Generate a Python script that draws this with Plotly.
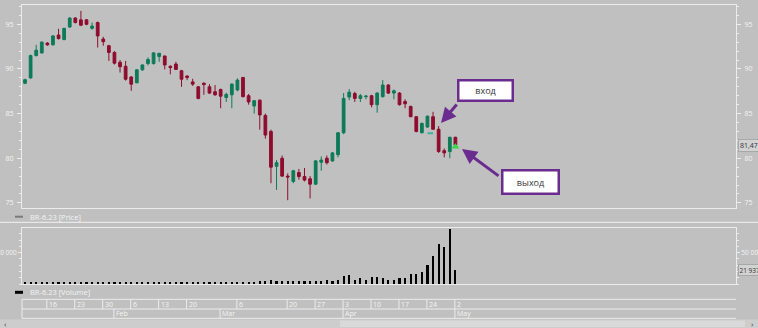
import plotly.graph_objects as go

W, H = 758, 328

# ---------------- data ----------------
dates = (
    ["2023-01-%02d" % d for d in [10, 11, 12, 13, 16, 17, 18, 19, 20, 23, 24, 25, 26, 27, 30, 31]]
    + ["2023-02-%02d" % d for d in [1, 2, 3, 6, 7, 8, 9, 10, 13, 14, 15, 16, 17, 20, 21, 22, 24, 27, 28]]
    + ["2023-03-%02d" % d for d in [1, 2, 3, 6, 7, 9, 10, 13, 14, 15, 16, 17, 20, 21, 22, 23, 24, 27, 28, 29, 30, 31]]
    + ["2023-04-%02d" % d for d in [3, 4, 5, 6, 7, 10, 11, 12, 13, 14, 17, 18, 19, 20, 21, 24, 25, 26, 27, 28]]
    + ["2023-05-02"]
)

open_ = [88.4, 89.0, 91.5, 91.8, 92.9, 92.7, 93.8, 93.3, 94.7, 95.7,
         95.5, 95.5, 94.55, 95.2, 93.35, 92.6, 91.85, 90.75, 90.3, 89.1,
         88.45, 89.9, 90.6, 90.6, 91.4, 91.45, 90.3, 90.55, 89.8, 89.2,
         88.55, 88.0, 88.4, 88.0, 87.45, 87.7, 86.8, 87.1, 87.65, 89.05,
         87.0, 85.85, 86.5, 84.8, 83.0, 79.1, 80.0, 78.0, 77.4, 78.4,
         77.95, 77.7, 77.1, 79.55, 80.0, 79.7, 80.4, 82.85, 86.85, 87.25,
         86.7, 86.9, 87.0, 86.0, 86.9, 88.2, 87.3, 87.3, 86.35, 85.8,
         84.65, 82.85, 83.5, 84.65, 83.25, 80.85, 80.75, 82.35]
high = [88.9, 91.6, 92.7, 93.1, 93.0, 93.8, 94.5, 94.6, 95.8, 95.8,
        96.5, 95.6, 95.2, 95.3, 93.6, 92.7, 92.0, 91.0, 90.9, 89.2,
        90.0, 90.5, 91.3, 91.9, 91.8, 91.5, 90.4, 90.8, 89.9, 89.3,
        88.9, 88.1, 88.5, 88.3, 88.2, 87.8, 87.35, 88.4, 88.95, 89.1,
        87.2, 86.5, 86.6, 85.0, 83.2, 79.8, 80.3, 78.3, 78.7, 78.8,
        78.9, 78.0, 79.8, 80.2, 80.3, 80.7, 82.9, 87.3, 87.75, 87.45,
        87.2, 87.1, 87.1, 87.4, 88.75, 88.3, 87.7, 87.4, 86.6, 85.9,
        84.7, 84.0, 84.8, 85.2, 83.6, 81.1, 82.4, 82.4]
low = [88.3, 88.9, 91.4, 91.7, 92.6, 92.6, 93.3, 93.2, 94.6, 95.1,
       94.8, 94.9, 94.4, 92.4, 92.6, 90.9, 90.5, 89.6, 88.7, 87.55,
       88.4, 89.8, 90.4, 90.5, 90.8, 89.95, 89.4, 89.9, 88.0, 88.75,
       88.1, 86.6, 87.1, 87.2, 87.0, 85.6, 86.3, 85.6, 87.5, 86.8,
       86.0, 85.0, 83.2, 82.2, 77.2, 76.45, 77.9, 75.3, 77.2, 77.6,
       77.4, 75.5, 77.0, 78.6, 79.3, 79.6, 80.1, 82.7, 86.5, 86.3,
       86.3, 86.6, 85.7, 85.1, 86.8, 87.2, 86.6, 85.9, 85.6, 84.6,
       82.9, 82.8, 83.4, 83.2, 80.6, 80.1, 80.0, 81.4]
close = [88.8, 91.5, 92.1, 93.0, 92.7, 93.7, 93.4, 94.55, 95.7, 95.2,
         94.9, 95.0, 94.8, 93.7, 93.05, 91.85, 90.65, 90.25, 88.85, 88.3,
         89.9, 90.45, 91.05, 91.8, 91.75, 90.45, 90.15, 89.95, 88.85, 89.05,
         88.3, 86.7, 88.25, 87.3, 87.1, 86.95, 87.15, 88.3, 88.75, 86.9,
         86.3, 86.45, 84.85, 82.6, 79.0, 79.5, 78.0, 77.9, 78.6, 77.95,
         77.55, 77.1, 79.7, 79.8, 79.5, 80.6, 82.85, 86.7, 87.4, 86.7,
         87.0, 86.95, 86.0, 87.3, 88.2, 87.3, 87.55, 86.0, 86.1, 84.65,
         83.0, 83.9, 84.7, 83.25, 80.75, 80.6, 82.35, 81.47]
volume = [2600, 3100, 2800, 2500, 2400, 2600, 2500, 2700, 2900, 2600,
          2800, 2500, 2300, 2700, 2500, 2600, 2800, 2600, 2900, 2700,
          2600, 2500, 2400, 2600, 2500, 2700, 2400, 2500, 2600, 2300,
          2500, 2800, 2200, 2500, 2600, 2700, 2600, 2900, 3000, 3200,
          3400, 3500, 4200, 4800, 5200, 4500, 4600, 5000, 4400, 4300,
          4700, 4600, 4200, 4900, 5200, 4800, 6400, 11700, 13300, 6400,
          9100, 6400, 10000, 10000, 9100, 6400, 6400, 9100, 9100, 16000,
          16000, 18700, 29200, 44200, 63400, 58600, 87400, 21937]

day_ticks = [("2023-01-16", "16"), ("2023-01-23", "23"), ("2023-01-30", "30"),
             ("2023-02-06", "6"), ("2023-02-13", "13"), ("2023-02-20", "20"),
             ("2023-03-06", "6"), ("2023-03-20", "20"), ("2023-03-27", "27"),
             ("2023-04-03", "3"), ("2023-04-10", "10"), ("2023-04-17", "17"),
             ("2023-04-24", "24"), ("2023-05-02", "2")]
month_ticks = [("2023-02-01", "Feb"), ("2023-03-01", "Mar"),
               ("2023-04-03", "Apr"), ("2023-05-02", "May")]

entry_marker = (["2023-04-24", "2023-04-25"], [82.8, 82.8])
exit_marker = (["2023-05-02"], [81.3])

series_price = "BR-6.23 [Price]"
series_volume = "BR-6.23 [Volume]"
last_price_label = "81,47"
last_volume_label = "21 937"

# ---------------- helpers (pixel -> paper) ----------------
def px(x):
    return x / W


def py(y):
    return 1 - y / H


BG = "#c0c0c0"
LINE = "#ececec"
TXT = "#f4f4f4"
UP = "#0d7a58"
DOWN = "#8e0c2e"
PURPLE = "#6a2d8f"
FONT = "Open Sans"

fig = go.Figure()

fig.add_trace(go.Candlestick(
    x=dates, open=open_, high=high, low=low, close=close,
    increasing=dict(line=dict(color=UP, width=1), fillcolor=UP),
    decreasing=dict(line=dict(color=DOWN, width=1), fillcolor=DOWN),
    whiskerwidth=0, showlegend=False, xaxis="x", yaxis="y",
))
fig.add_trace(go.Scatter(
    x=entry_marker[0], y=entry_marker[1], mode="lines",
    line=dict(color="#3fb3a0", width=2), showlegend=False, xaxis="x", yaxis="y",
))
fig.add_trace(go.Scatter(
    x=exit_marker[0], y=exit_marker[1], mode="markers",
    marker=dict(symbol="triangle-up", size=7, color="#35d84a"),
    showlegend=False, xaxis="x", yaxis="y",
))
fig.add_trace(go.Scatter(
    x=[dates[-1]], y=[close[-1]], mode="markers", marker=dict(opacity=0),
    hoverinfo="skip", showlegend=False, xaxis="x", yaxis="y3",
))
fig.add_trace(go.Bar(
    x=dates, y=volume, marker=dict(color="black", line=dict(width=0)),
    width=0.38, showlegend=False, xaxis="x2", yaxis="y2",
))
fig.add_trace(go.Scatter(
    x=[dates[-1]], y=[volume[-1]], mode="markers", marker=dict(opacity=0),
    hoverinfo="skip", showlegend=False, xaxis="x2", yaxis="y4",
))

xr = [-0.54, 127.2]
xdom = [px(22), px(736)]
ydom_price = [py(207.7), py(4.5)]
ydom_vol = [py(284), py(228.3)]
prange = [74.46, 97.22]
vrange = [0, 89000]

tickfont = dict(family=FONT, size=7, color=TXT)
vtickfont = dict(family=FONT, size=6.5, color=TXT)
minor_p = dict(ticks="outside", ticklen=2, tickcolor=LINE, tick0=0, dtick=1)
minor_v = dict(ticks="outside", ticklen=2, tickcolor=LINE,
               tickmode="linear", tick0=0, dtick=10000)

fig.update_layout(
    width=W, height=H,
    margin=dict(l=0, r=0, t=0, b=0, autoexpand=False),
    paper_bgcolor=BG, plot_bgcolor=BG,
    separators=", ",
    bargap=0,
    xaxis=dict(domain=xdom, type="category", range=xr, showticklabels=False,
               showgrid=False, zeroline=False, showline=True, mirror=True,
               linecolor=LINE, linewidth=1, ticks="", anchor="y",
               automargin=False, rangeslider=dict(visible=False)),
    xaxis2=dict(domain=xdom, type="category", range=xr, matches="x",
                showticklabels=False, showgrid=False, zeroline=False,
                showline=True, mirror=True, linecolor=LINE, linewidth=1,
                ticks="", anchor="y2", automargin=False),
    yaxis=dict(domain=ydom_price, range=prange, side="left", anchor="x",
               tick0=0, dtick=5, ticks="outside", ticklen=4, tickcolor=LINE,
               minor=minor_p, tickfont=tickfont, showgrid=False,
               zeroline=False, showline=True, mirror=True, linecolor=LINE,
               linewidth=1, ticklabelstandoff=2, automargin=False),
    yaxis3=dict(range=prange, overlaying="y", side="right", anchor="x",
                tick0=0, dtick=5, ticks="outside", ticklen=4, tickcolor=LINE,
                minor=minor_p, tickfont=tickfont, showgrid=False,
                zeroline=False, showline=False, ticklabelstandoff=2,
                automargin=False),
    yaxis2=dict(domain=ydom_vol, range=vrange, side="left", anchor="x2",
                tickvals=[50000], ticktext=["50 000"], ticks="outside",
                ticklen=3, tickcolor=LINE, minor=minor_v,
                tickfont=vtickfont, showgrid=False, zeroline=False,
                showline=True, mirror=True, linecolor=LINE, linewidth=1,
                ticklabelstandoff=0, automargin=False),
    yaxis4=dict(range=vrange, overlaying="y2", side="right", anchor="x2",
                tickvals=[50000], ticktext=["50 000"], ticks="outside",
                ticklen=3, tickcolor=LINE, minor=minor_v,
                tickfont=vtickfont, showgrid=False, zeroline=False,
                showline=False, ticklabelstandoff=0, automargin=False),
    hovermode=False,
)

shapes = []
annotations = []

# pane separator
shapes.append(dict(type="line", xref="paper", yref="paper", x0=0, x1=1,
                   y0=py(222.3), y1=py(222.3), line=dict(color="#f2f2f2", width=1)))

# time axis grid
for yy in [299.3, 309, 318.3]:
    shapes.append(dict(type="line", xref="paper", yref="paper", x0=px(22), x1=px(736),
                       y0=py(yy), y1=py(yy), line=dict(color=LINE, width=1)))
shapes.append(dict(type="line", xref="paper", yref="paper", x0=px(22), x1=px(22),
                   y0=py(318.3), y1=py(299.3), line=dict(color=LINE, width=1)))
axfont = dict(family=FONT, size=7, color=TXT)
for d, lab in day_ticks:
    i = dates.index(d)
    shapes.append(dict(type="line", xref="x", yref="paper", x0=i - 0.1, x1=i - 0.1,
                       y0=py(309), y1=py(299.3), line=dict(color=LINE, width=1)))
    annotations.append(dict(xref="x", yref="paper", x=i - 0.1, y=py(304.2), text=lab,
                            showarrow=False, xanchor="left", yanchor="middle", xshift=1,
                            borderpad=0, font=axfont))
for d, lab in month_ticks:
    i = dates.index(d)
    shapes.append(dict(type="line", xref="x", yref="paper", x0=i - 0.1, x1=i - 0.1,
                       y0=py(318.3), y1=py(309), line=dict(color=LINE, width=1)))
    annotations.append(dict(xref="x", yref="paper", x=i - 0.1, y=py(313.8), text=lab,
                            showarrow=False, xanchor="left", yanchor="middle", xshift=1,
                            borderpad=0, font=axfont))

# scrollbar
shapes.append(dict(type="rect", xref="paper", yref="paper", x0=0, x1=1,
                   y0=0, y1=py(319.5), fillcolor="#cdcdcd", line=dict(width=0), layer="below"))
shapes.append(dict(type="rect", xref="paper", yref="paper", x0=px(340), x1=px(745),
                   y0=py(327), y1=py(320.5), fillcolor="#d9d9d9", line=dict(width=0), layer="below"))
annotations.append(dict(xref="paper", yref="paper", x=px(5), y=py(323.5), text="‹",
                        showarrow=False, borderpad=0, xanchor="center", yanchor="middle",
                        font=dict(family=FONT, size=8, color="#404040")))
annotations.append(dict(xref="paper", yref="paper", x=px(752), y=py(323.5), text="›",
                        showarrow=False, borderpad=0, xanchor="center", yanchor="middle",
                        font=dict(family=FONT, size=8, color="#404040")))

# legends
legfont = dict(family=FONT, size=7.5, color=TXT)
shapes.append(dict(type="line", xref="paper", yref="paper", x0=px(15), x1=px(23),
                   y0=py(216.7), y1=py(216.7), line=dict(color="#7a7a7a", width=2)))
annotations.append(dict(xref="paper", yref="paper", x=px(29), y=py(216.7), text=series_price,
                        showarrow=False, xanchor="left", yanchor="middle", borderpad=0,
                        font=legfont))
shapes.append(dict(type="line", xref="paper", yref="paper", x0=px(15), x1=px(23),
                   y0=py(292.3), y1=py(292.3), line=dict(color="black", width=3)))
annotations.append(dict(xref="paper", yref="paper", x=px(29), y=py(292.3), text=series_volume,
                        showarrow=False, xanchor="left", yanchor="middle", borderpad=0,
                        font=legfont))

# last value boxes
annotations.append(dict(xref="paper", yref="y", x=px(737.5), y=close[-1], text=last_price_label,
                        showarrow=False, xanchor="left", yanchor="middle",
                        bgcolor="#d2d2d2", bordercolor="#a8a8a8", borderwidth=1, borderpad=1,
                        font=dict(family=FONT, size=7, color="#333333")))
annotations.append(dict(xref="paper", yref="y2", x=px(737.5), y=volume[-1], text=last_volume_label,
                        showarrow=False, xanchor="left", yanchor="middle",
                        bgcolor="#d2d2d2", bordercolor="#a8a8a8", borderwidth=1, borderpad=0.5,
                        font=dict(family=FONT, size=6.5, color="#333333")))

# callout boxes
annotations.append(dict(xref="paper", yref="paper", x=px(485), y=py(90), text="вход",
                        showarrow=False, width=52, height=18, bgcolor="white",
                        xanchor="center", yanchor="middle",
                        bordercolor=PURPLE, borderwidth=2.5, borderpad=0,
                        font=dict(family=FONT, size=9, color="#333333")))
annotations.append(dict(xref="paper", yref="paper", x=px(530), y=py(182), text="выход",
                        showarrow=False, width=54, height=21, bgcolor="white",
                        xanchor="center", yanchor="middle",
                        bordercolor=PURPLE, borderwidth=2.5, borderpad=0,
                        font=dict(family=FONT, size=9, color="#333333")))
# arrows
annotations.append(dict(xref="paper", yref="paper", x=px(441), y=py(123), text="",
                        showarrow=True, ax=17, ay=-20,
                        arrowhead=2, arrowsize=1, arrowwidth=3, arrowcolor=PURPLE,
                        standoff=0, startstandoff=0))
annotations.append(dict(xref="paper", yref="paper", x=px(462), y=py(149), text="",
                        showarrow=True, ax=38, ay=28,
                        arrowhead=2, arrowsize=1, arrowwidth=3, arrowcolor=PURPLE,
                        standoff=0, startstandoff=0))

fig.update_layout(shapes=shapes, annotations=annotations)

fig.write_html("out.html")
